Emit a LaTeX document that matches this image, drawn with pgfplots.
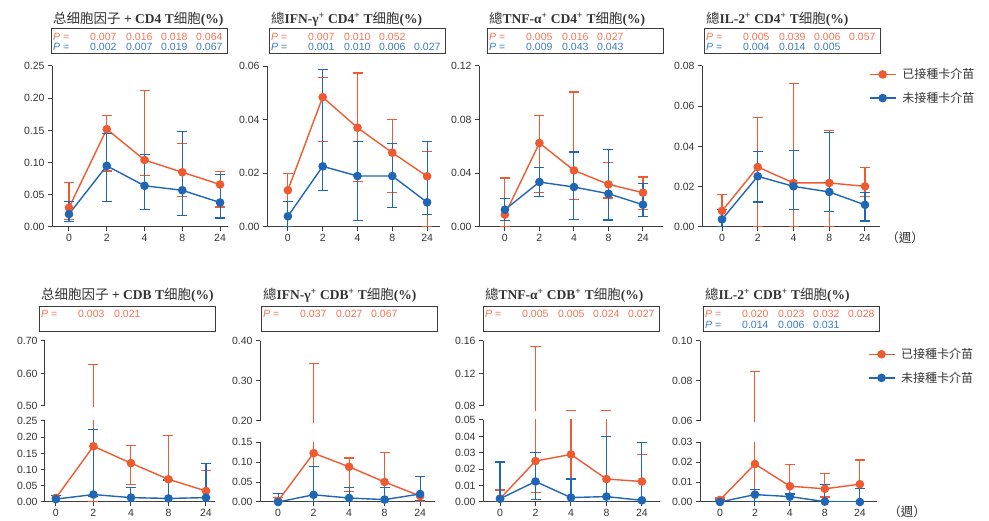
\documentclass[border=0pt]{standalone}
\usepackage{fontspec}
\setmainfont{Liberation Sans}
\newfontfamily\cjk{Noto Sans CJK TC}
\newfontfamily\cjks{Noto Sans CJK SC}
\newfontfamily\tms{Liberation Serif}
\usepackage{pgfplots}
\usepackage{pgfplotstable}
\pgfplotsset{compat=1.18}
\definecolor{vac}{HTML}{EF5B31}
\definecolor{unv}{HTML}{1F66B5}
\definecolor{pvac}{HTML}{F37454}
\definecolor{punv}{HTML}{3A7CC4}
\definecolor{axc}{HTML}{3C3C3C}
\definecolor{txc}{HTML}{333333}

% x = week index (0,2,4,8,24); 1 = vaccinated (orange), 2 = not vaccinated (blue)
\pgfplotstableread{
x m1 lo1 hi1 m2 lo2 hi2
0 0.030 0.011 0.069 0.020 0.008 0.040
1 0.152 0.087 0.173 0.095 0.039 0.145
2 0.104 0.080 0.212 0.064 0.027 0.113
3 0.085 0.048 0.129 0.057 0.018 0.148
4 0.066 0.031 0.086 0.038 0.014 0.081
}\tA
\pgfplotstableread{
x m1 lo1 hi1 m2 lo2 hi2
0 0.0137 0.0000 0.0199 0.0040 0.0000 0.0096
1 0.0484 0.0317 0.0557 0.0226 0.0137 0.0586
2 0.0370 0.0168 0.0574 0.0190 0.0025 0.0320
3 0.0277 0.0127 0.0401 0.0190 0.0071 0.0310
4 0.0189 0.0000 0.0282 0.0092 0.0046 0.0320
}\tB
\pgfplotstableread{
x m1 lo1 hi1 m2 lo2 hi2
0 0.0092 0.0000 0.0365 0.0129 0.0050 0.0214
1 0.0626 0.0256 0.0832 0.0335 0.0229 0.0442
2 0.0422 0.0204 0.1006 0.0298 0.0057 0.0559
3 0.0318 0.0216 0.0484 0.0248 0.0052 0.0579
4 0.0256 0.0132 0.0373 0.0166 0.0075 0.0323
}\tC
\pgfplotstableread{
x m1 lo1 hi1 m2 lo2 hi2
0 0.0080 0.0000 0.0162 0.0038 0.0000 0.0088
1 0.0298 0.0000 0.0543 0.0252 0.0124 0.0373
2 0.0219 0.0000 0.0712 0.0202 0.0086 0.0381
3 0.0219 0.0000 0.0480 0.0174 0.0075 0.0470
4 0.0202 0.0152 0.0295 0.0110 0.0030 0.0170
}\tD
\pgfplotstableread{
x m1 lo1 hi1 m2 lo2 hi2
0 0.0125 0.000 0.021 0.0090 0.000 0.020
1 0.172 0.000 0.628 0.0230 0.016 0.224
2 0.120 0.054 0.175 0.0135 0.002 0.045
3 0.070 0.000 0.205 0.0110 0.000 0.068
4 0.034 0.000 0.096 0.0135 0.000 0.118
}\tE
\pgfplotstableread{
x m1 lo1 hi1 m2 lo2 hi2
0 0.003 0.000 0.012 0.000 0.000 0.022
1 0.122 0.000 0.343 0.018 0.000 0.089
2 0.088 0.027 0.110 0.010 0.002 0.037
3 0.050 0.000 0.124 0.006 0.000 0.037
4 0.015 0.000 0.064 0.020 0.003 0.063
}\tF
\pgfplotstableread{
x m1 lo1 hi1 m2 lo2 hi2
0 0.0020 0.0000 0.0073 0.0020 0.0000 0.0244
1 0.0250 0.0056 0.1530 0.0125 0.0015 0.0300
2 0.0290 0.0000 0.0750 0.0027 0.0000 0.0140
3 0.0140 0.0000 0.0750 0.0033 0.0000 0.0400
4 0.0125 0.0000 0.0290 0.0010 0.0000 0.0365
}\tG
\pgfplotstableread{
x m1 lo1 hi1 m2 lo2 hi2
0 0.0010 0.0000 0.0020 0.0000 0.0000 0.0010
1 0.0190 0.0000 0.0847 0.0037 0.0000 0.0064
2 0.0079 0.0000 0.0189 0.0027 0.0000 0.0040
3 0.0066 0.0025 0.0143 0.0002 0.0000 0.0088
4 0.0089 0.0000 0.0210 0.0000 0.0000 0.0067
}\tH

\pgfplotsset{
  base/.style={
    scale only axis, axis lines=left,
    axis line style={-, line width=1pt, draw=axc},
    every tick/.style={line width=1pt, draw=axc},
    major tick length=4pt, tick align=outside,
    tick label style={font=\fontsize{10.5}{10.5}\selectfont, text=txc},
    yticklabel style={/pgf/number format/.cd, fixed, fixed zerofill, precision=2, assume math mode=true},
    scaled y ticks=false, ymin=0,
  },
  lower/.style={base, xtick={0,1,2,3,4}, xticklabels={0,2,4,8,24}},
  upper/.style={base, axis x line=none, clip=false},
  ser/.style={#1, line width=1.4pt, mark=*, mark size=3.6pt, mark options={solid},
    error bars/.cd, y dir=both, y explicit,
    error bar style={line width=1.1pt, #1},
    error mark options={rotate=90, mark size=5pt, line width=1.1pt, #1}},
  seg/.style={#1, line width=1.1pt},
  cap/.style={#1, only marks, mark=-, mark size=5pt, mark options={line width=1.1pt}},
  legend image code/.code={\draw[mark repeat=2, mark phase=2, #1] plot coordinates {(0pt,0pt) (13pt,0pt) (26pt,0pt)};},
  leg/.style={legend style={at={#1}, anchor=north west, draw=none, fill=none,
    font=\fontsize{12}{12}\selectfont\cjk, row sep=8pt, text=txc,
    nodes={inner xsep=6pt}}, legend cell align=left},
}

\newcommand{\both}[1]{%
  \addplot[ser=vac] table[x=x, y=m1, y error plus expr=\thisrow{hi1}-\thisrow{m1}, y error minus expr=\thisrow{m1}-\thisrow{lo1}] {#1};
  \addplot[ser=unv] table[x=x, y=m2, y error plus expr=\thisrow{hi2}-\thisrow{m2}, y error minus expr=\thisrow{m2}-\thisrow{lo2}] {#1};
}
\newcommand{\pf}{\fontsize{10.5}{10.5}\selectfont}
\newcommand{\prow}[7]{%
  \node[anchor=west, inner sep=0pt, text=#3, font=\pf] at (#1pt+2pt,#2pt) {\textit{P} =};
  \node[anchor=west, inner sep=0pt, text=#3, font=\pf] at (#1pt+39pt,#2pt) {#4};
  \node[anchor=west, inner sep=0pt, text=#3, font=\pf] at (#1pt+75pt,#2pt) {#5};
  \node[anchor=west, inner sep=0pt, text=#3, font=\pf] at (#1pt+110pt,#2pt) {#6};
  \node[anchor=west, inner sep=0pt, text=#3, font=\pf] at (#1pt+145pt,#2pt) {#7};
}
\newcommand{\ttl}[3]{%
  \node[anchor=west, inner sep=0pt, text=txc, font=\fontsize{13.5}{14}\selectfont\tms\bfseries] at (#1pt+2pt,#2pt) {#3};
}
\newcommand{\zh}[1]{{\cjks\mdseries #1}}

\begin{document}
\begin{tikzpicture}
\path[use as bounding box] (0,0) rectangle (989pt,-521pt);

% ---------- titles and P boxes ----------
\ttl{51}{-19}{\zh{总细胞因子} + CD4 T\zh{细胞}(\%)}
\ttl{269}{-19}{\zh{總}IFN-γ\textsuperscript{+} CD4\textsuperscript{+} T\zh{细胞}(\%)}
\ttl{487}{-19}{\zh{總}TNF-α\textsuperscript{+} CD4\textsuperscript{+} T\zh{细胞}(\%)}
\ttl{704}{-19}{\zh{總}IL-2\textsuperscript{+} CD4\textsuperscript{+} T\zh{细胞}(\%)}
\foreach \bx in {51,269,487,704} {\draw[axc, line width=1pt] (\bx pt,-29pt) rectangle (\bx pt+176pt,-54pt);}
\prow{51}{-36.5}{pvac}{0.007}{0.016}{0.018}{0.064}
\prow{51}{-47}{punv}{0.002}{0.007}{0.019}{0.067}
\prow{269}{-36.5}{pvac}{0.007}{0.010}{0.052}{}
\prow{269}{-47}{punv}{0.001}{0.010}{0.006}{0.027}
\prow{487}{-36.5}{pvac}{0.005}{0.016}{0.027}{}
\prow{487}{-47}{punv}{0.009}{0.043}{0.043}{}
\prow{704}{-36.5}{pvac}{0.005}{0.039}{0.006}{0.057}
\prow{704}{-47}{punv}{0.004}{0.014}{0.005}{}

\ttl{39}{-295}{\zh{总细胞因子} + CDB T\zh{细胞}(\%)}
\ttl{261}{-295}{\zh{總}IFN-γ\textsuperscript{+} CDB\textsuperscript{+} T\zh{细胞}(\%)}
\ttl{483}{-295}{\zh{總}TNF-α\textsuperscript{+} CDB\textsuperscript{+} T\zh{细胞}(\%)}
\ttl{703}{-295}{\zh{總}IL-2\textsuperscript{+} CDB\textsuperscript{+} T\zh{细胞}(\%)}
\foreach \bx in {39,261,483,703} {\draw[axc, line width=1pt] (\bx pt,-307pt) rectangle (\bx pt+176pt,-332pt);}
\prow{39}{-314}{pvac}{0.003}{0.021}{}{}
\prow{261}{-314}{pvac}{0.037}{0.027}{0.067}{}
\prow{483}{-314}{pvac}{0.005}{0.005}{0.024}{0.027}
\prow{703}{-314}{pvac}{0.020}{0.023}{0.032}{0.028}
\prow{703}{-324.5}{punv}{0.014}{0.006}{0.031}{}

\node[text=txc, font=\fontsize{12.5}{12.5}\selectfont\cjk] at (905pt,-238pt) {（週）};
\node[text=txc, font=\fontsize{12.5}{12.5}\selectfont\cjk] at (907pt,-512pt) {（週）};

% ---------- top row ----------
\begin{axis}[lower, at={(52pt,-227pt)}, anchor=south west, width=176pt, height=161pt,
  xmin=-0.45, xmax=4.21, ymax=0.25, ytick={0,0.05,0.10,0.15,0.20,0.25}]
\both{\tA}
\end{axis}
\begin{axis}[lower, at={(267pt,-227pt)}, anchor=south west, width=173pt, height=161pt,
  xmin=-0.6, xmax=4.37, ymax=0.06, ytick={0,0.02,0.04,0.06}]
\both{\tB}
\end{axis}
\begin{axis}[lower, at={(479pt,-227pt)}, anchor=south west, width=184pt, height=161pt,
  xmin=-0.75, xmax=4.58, ymax=0.12, ytick={0,0.04,0.08,0.12}]
\both{\tC}
\end{axis}
\begin{axis}[lower, at={(702pt,-227pt)}, anchor=south west, width=178pt, height=161pt,
  xmin=-0.56, xmax=4.42, ymax=0.08, ytick={0,0.02,0.04,0.06,0.08},
  leg={(0.92,1.01)}]
\both{\tD}
\legend{已接種卡介苗, 未接種卡介苗}
\end{axis}

% ---------- bottom row (broken y axes) ----------
\begin{axis}[lower, at={(45pt,-502pt)}, anchor=south west, width=170pt, height=81pt,
  xmin=-0.29, xmax=4.24, ymax=0.25, ytick={0,0.05,0.10,0.15,0.20,0.25}]
\both{\tE}
\end{axis}
\begin{axis}[upper, at={(45pt,-406pt)}, anchor=south west, width=170pt, height=65pt,
  xmin=-0.29, xmax=4.24, ymin=0.5, ymax=0.7, ytick={0.5,0.6,0.7}]
\addplot[seg=vac] coordinates {(1,0.497) (1,0.628)};
\addplot[cap=vac] coordinates {(1,0.628)};
\end{axis}

\begin{axis}[lower, at={(260pt,-502pt)}, anchor=south west, width=175pt, height=60pt,
  xmin=-0.51, xmax=4.42, ymax=0.15, ytick={0,0.05,0.10,0.15}]
\both{\tF}
\end{axis}
\begin{axis}[upper, at={(260pt,-421pt)}, anchor=south west, width=175pt, height=80pt,
  xmin=-0.51, xmax=4.42, ymin=0.2, ymax=0.4, ytick={0.2,0.3,0.4}]
\addplot[seg=vac] coordinates {(1,0.196) (1,0.343)};
\addplot[cap=vac] coordinates {(1,0.343)};
\end{axis}

\begin{axis}[lower, at={(483pt,-502pt)}, anchor=south west, width=177pt, height=82pt,
  xmin=-0.48, xmax=4.51, ymax=0.05, ytick={0,0.01,0.02,0.03,0.04,0.05}]
\both{\tG}
\end{axis}
\begin{axis}[upper, at={(483pt,-406pt)}, anchor=south west, width=177pt, height=65pt,
  xmin=-0.48, xmax=4.51, ymin=0.08, ymax=0.16, ytick={0.08,0.12,0.16}]
\addplot[seg=vac] coordinates {(1,0.074) (1,0.153)};
\addplot[cap=vac] coordinates {(1,0.153) (2,0.075) (3,0.075)};
\end{axis}

\begin{axis}[lower, at={(700pt,-502pt)}, anchor=south west, width=177pt, height=60pt,
  xmin=-0.57, xmax=4.49, ymax=0.03, ytick={0,0.01,0.02,0.03}]
\both{\tH}
\end{axis}
\begin{axis}[upper, at={(700pt,-421pt)}, anchor=south west, width=177pt, height=80pt,
  xmin=-0.57, xmax=4.49, ymin=0.06, ymax=0.10, ytick={0.06,0.08,0.10},
  leg={(0.93,0.96)}]
\addplot[seg=vac, forget plot] coordinates {(1,0.0597) (1,0.0847)};
\addplot[cap=vac, forget plot] coordinates {(1,0.0847)};
\addlegendimage{vac, line width=1.4pt, mark=*, mark size=3.6pt}
\addlegendimage{unv, line width=1.4pt, mark=*, mark size=3.6pt}
\legend{已接種卡介苗, 未接種卡介苗}
\end{axis}
\end{tikzpicture}
\end{document}
